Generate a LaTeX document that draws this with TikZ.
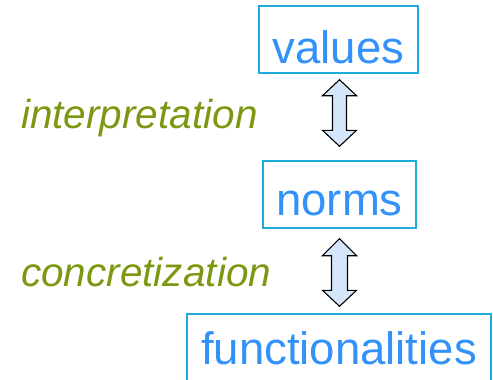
\documentclass[tikz,border=0pt]{standalone}
\usepackage{fontspec}
\setmainfont{Liberation Sans}
\usetikzlibrary{calc}
\definecolor{boxline}{RGB}{30,172,222}
\definecolor{boxtext}{RGB}{51,145,250}
\definecolor{olivetext}{RGB}{124,152,18}
\definecolor{arrowfill}{RGB}{214,230,250}
\tikzset{
  termbox/.style={draw=boxline, line width=1.4pt, inner xsep=0pt, inner ysep=0pt,
    text=boxtext, font=\fontsize{45.5}{45.5}\selectfont},
  relabel/.style={anchor=base west, inner sep=0pt, text=olivetext,
    font=\fontsize{40.5}{40.5}\selectfont\itshape},
  arrowbox/.style={draw=black, line width=1.1pt, fill=arrowfill, line join=miter}
}
\begin{document}
\begin{tikzpicture}[x=1pt,y=-1pt]
\useasboundingbox (0,0) rectangle (493,380);
\node[termbox, minimum width=159pt, text height=57pt, text depth=10pt] (values) at (338.5,39.5) {values};
\node[termbox, minimum width=153pt, text height=54pt, text depth=13pt] (norms) at (339.5,194.5) {norms};
\node[termbox, minimum width=304pt, text height=50pt, text depth=17pt] (func) at (339,347.5) {functionalities};
\node[relabel] (interp) at (21,128) {interpretation};
\node[relabel] (concr) at (21,286) {concretization};
\draw[arrowbox] let \p1=($(values.south)+(1,6)$), \p2=($(norms.north)+(0,-14)$) in
  (\x1,\y1) -- (\x1+17pt,\y1-16pt) -- (\x1+7pt,\y1-16pt) -- (\x1+7pt,\y2+16pt)
  -- (\x1+17pt,\y2+16pt) -- (\x1,\y2) -- (\x1-17pt,\y2+16pt) -- (\x1-7pt,\y2+16pt)
  -- (\x1-7pt,\y1-16pt) -- (\x1-17pt,\y1-16pt) -- cycle;
\draw[arrowbox] let \p1=($(norms.south)+(0,10)$), \p2=($(func.north)+(0,-7)$) in
  (\x1,\y1) -- (\x1+17pt,\y1-17pt) -- (\x1+8pt,\y1-17pt) -- (\x1+8pt,\y2+16pt)
  -- (\x1+17pt,\y2+16pt) -- (\x1,\y2) -- (\x1-17pt,\y2+16pt) -- (\x1-8pt,\y2+16pt)
  -- (\x1-8pt,\y1-17pt) -- (\x1-17pt,\y1-17pt) -- cycle;
\end{tikzpicture}
\end{document}
